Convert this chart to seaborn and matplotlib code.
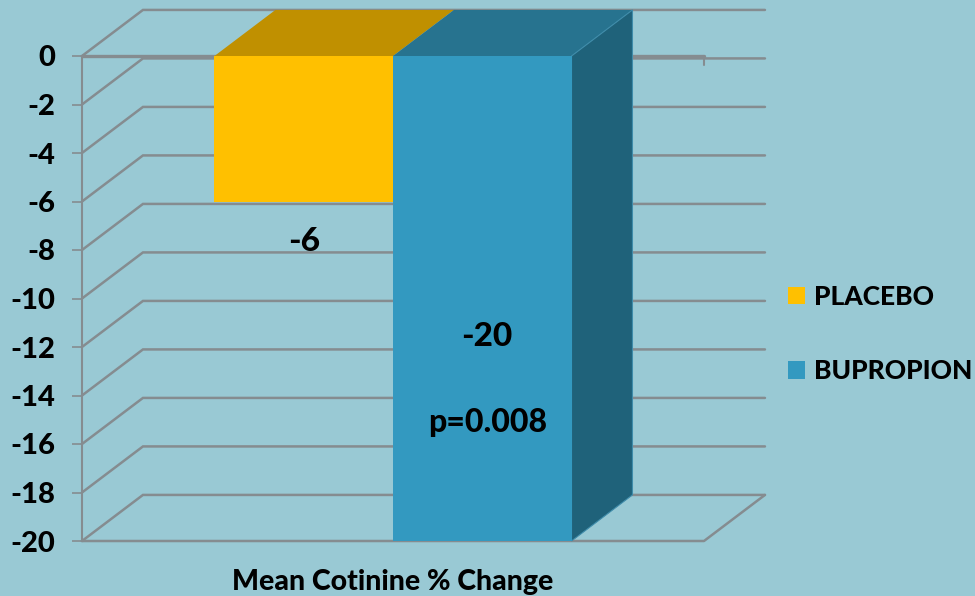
import matplotlib
matplotlib.use("Agg")
import matplotlib.pyplot as plt
from matplotlib.patches import Polygon
import pandas as pd
import seaborn as sns

sns.set_theme(style="white")
plt.rcParams["font.family"] = ["Lato", "DejaVu Sans"]
WEIGHT = "black"
plt.rcParams["font.weight"] = WEIGHT

# Chart data
category = ["Mean Cotinine % Change"]
groups = ["PLACEBO", "BUPROPION"]
values = [-6, -20]
value_labels = ["-6", "-20"]
label_levels = [-7.65, -11.55]
p_text = "p=0.008"
p_level = -15.13
ticks = list(range(0, -22, -2))

# Palette and pseudo-3D styling
BG = "#99C9D4"
FRONT = ["#FFC000", "#3399C0"]
TOP = ["#C09000", "#27738F"]
SIDE = "#1F627A"
GRID = "#858C90"
DX, DY = 0.098, 1.9  # extrusion depth in data units
BAR_SPAN = 0.574
TEXT_NUDGE = [0.0, 0.008]

df = pd.DataFrame({"measure": category * 2, "group": groups, "value": values})

W, H = 975, 596
fig = plt.figure(figsize=(W / 100, H / 100), dpi=100, facecolor=BG)
ax = fig.add_axes([82 / W, 1 - 541 / H, 622 / W, 485 / H], facecolor="none")

sns.barplot(data=df, x="measure", y="value", hue="group", hue_order=groups,
            palette=FRONT, width=BAR_SPAN, gap=0, dodge=True, saturation=1,
            linewidth=0, ax=ax, zorder=3)
ax.set_xlim(-0.5, 0.5)
ax.set_ylim(-20, 0)

# Wall and floor lines running back from each tick
for t in ticks:
    ax.plot([-0.5, -0.5 + DX, 0.5 + DX], [t, t + DY, t + DY], color=GRID, lw=1.8,
            clip_on=False, zorder=1, solid_joinstyle="miter")
ax.plot([-0.5, 0.5, 0.5 + DX], [-20, -20, -20 + DY], color=GRID, lw=1.8,
        clip_on=False, zorder=1)
ax.plot([-0.5, 0.5], [0, 0], color=GRID, lw=2.4, clip_on=False, zorder=2)
ax.plot([0.5, 0.5], [0, -0.38], color=GRID, lw=1.5, clip_on=False, zorder=2)

# Extruded top and side faces of the bars
bars = [p for c in ax.containers for p in c]
for bar, top_col in zip(bars, TOP):
    x0, x1 = bar.get_x(), bar.get_x() + bar.get_width()
    ax.add_patch(Polygon([(x0, 0), (x1, 0), (x1 + DX, DY), (x0 + DX, DY)],
                         facecolor=top_col, edgecolor="none", clip_on=False, zorder=2.5))
last = bars[-1]
xr = last.get_x() + last.get_width()
ax.add_patch(Polygon([(xr, 0), (xr + DX, DY), (xr + DX, last.get_height() + DY),
                      (xr, last.get_height())],
                     facecolor=SIDE, edgecolor="#3F8CAA", lw=0.8, clip_on=False, zorder=2.6))

# Value annotations
for bar, txt, lvl, nudge in zip(bars, value_labels, label_levels, TEXT_NUDGE):
    ax.text(bar.get_x() + bar.get_width() / 2 + nudge, lvl, txt, ha="center", va="center",
            fontsize=24, fontweight=WEIGHT, color="black", zorder=5)
ax.text(bars[1].get_x() + bars[1].get_width() / 2 + TEXT_NUDGE[1], p_level, p_text, ha="center",
        va="center", fontsize=23, fontweight=WEIGHT, color="black", zorder=5)

# Axes decoration
for s in ["top", "right", "bottom"]:
    ax.spines[s].set_visible(False)
ax.spines["left"].set_color(GRID)
ax.spines["left"].set_linewidth(1.5)
ax.set_yticks(ticks)
ax.set_yticklabels([str(t) for t in ticks], fontsize=21, fontweight=WEIGHT, color="black")
ax.tick_params(axis="y", left=True, length=7, width=1.2, color=GRID, pad=12.5)
ax.set_xticks([])
ax.set_ylabel("")
ax.set_xlabel(category[0], fontsize=20.5, fontweight=WEIGHT, color="black", labelpad=20.5)

# Legend to the right of the plot
handles, labels = ax.get_legend_handles_labels()
ax.legend(handles, labels, loc="center left", bbox_to_anchor=(788 / W, 1 - 334 / H),
          bbox_transform=fig.transFigure, frameon=False, ncol=1,
          fontsize=19, labelspacing=1.92, handlelength=0.65, handleheight=0.65,
          handletextpad=0.34, borderpad=0, borderaxespad=0, labelcolor="black")

fig.savefig("out.png", dpi=100, facecolor=BG)
